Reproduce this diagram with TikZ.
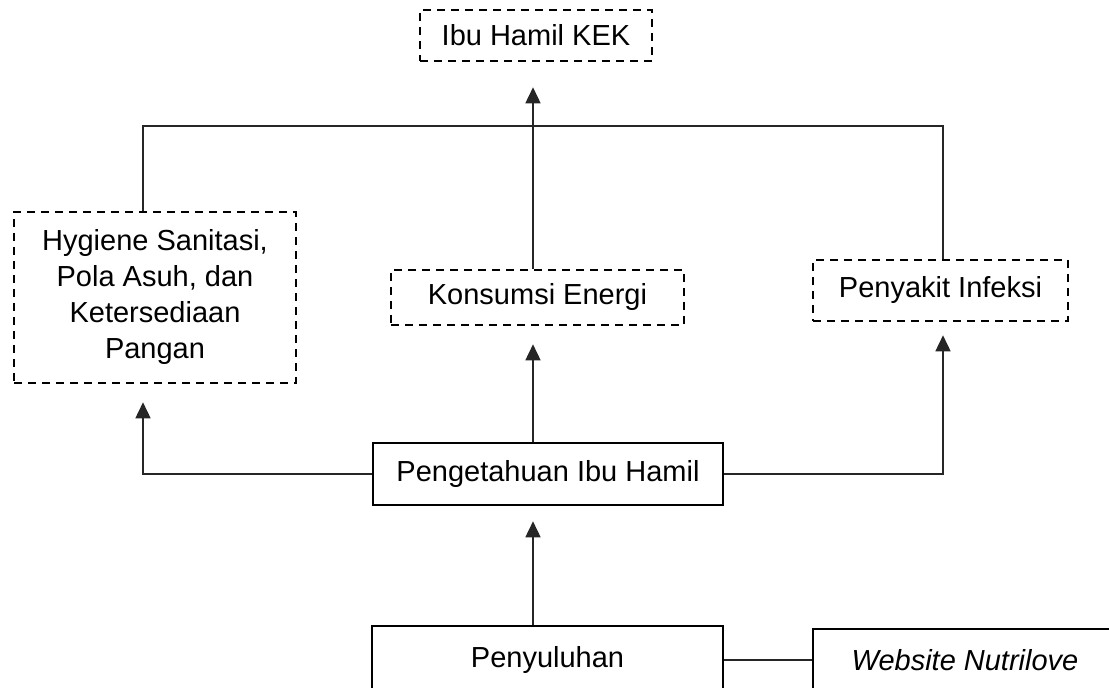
\documentclass[tikz,border=0pt]{standalone}
\usepackage{fontspec}
\setmainfont{Liberation Sans}
\usetikzlibrary{arrows.meta,calc}
\begin{document}
\begin{tikzpicture}[x=0.5pt,y=-0.5pt,
  every node/.style={font=\fontsize{14.5pt}{18pt}\selectfont, inner sep=0pt, align=center},
  dbox/.style={draw, line width=1.3pt, dash pattern=on 4pt off 3pt},
  sbox/.style={draw, line width=1.3pt},
  conn/.style={line width=0.8pt, draw=black!85},
  arr/.style={conn, -{Triangle[width=7.5pt,length=8pt]}}]
\useasboundingbox (0,0) rectangle (1109,688);
\clip (0,0) rectangle (1109,688);
% nodes
\node[dbox, minimum width=116pt, minimum height=25.5pt] (kek) at (536,35.5) {Ibu Hamil KEK};
\node[dbox, minimum width=141pt, minimum height=85.5pt] (hyg) at (155,297.5) {Hygiene Sanitasi,\\Pola Asuh, dan\\Ketersediaan\\Pangan};
\node[dbox, minimum width=146.5pt, minimum height=27.5pt] (kons) at (537.5,297.5) {Konsumsi Energi};
\node[dbox, minimum width=127.5pt, minimum height=30.5pt] (peny) at (940.5,290.5) {Penyakit Infeksi};
\node[sbox, minimum width=175pt, minimum height=31pt] (peng) at (548,474) {Pengetahuan Ibu Hamil};
\node[sbox, minimum width=175.5pt, minimum height=34pt] (penyul) at (547.5,660) {Penyuluhan};
\node[sbox, minimum width=152pt, minimum height=31pt] (web) at (965,660) {\itshape Website Nutrilove};
% helper coordinates
\coordinate (busL) at (143,126);
\coordinate (busR) at (943,126);
\coordinate (axis) at (533,126);
% top bus
\draw[conn] (hyg.north -| busL) -- (busL) -- (busR) -- (peny.north -| busR);
\draw[conn] (kons.north -| axis) -- (axis);
\draw[arr, shorten >=12.5pt] (axis) -- (kek.south -| axis);
% from knowledge
\draw[arr, shorten >=9pt] (peng.north -| axis) -- (kons.south -| axis);
\draw[arr, shorten >=9pt] (peng.west) -| (hyg.south -| busL);
\draw[arr, shorten >=6.5pt] (peng.east) -| (peny.south -| busR);
\draw[arr, shorten >=7.5pt] (penyul.north -| axis) -- (peng.south -| axis);
\draw[conn] (penyul.east) -- (web.west);
\end{tikzpicture}
\end{document}
